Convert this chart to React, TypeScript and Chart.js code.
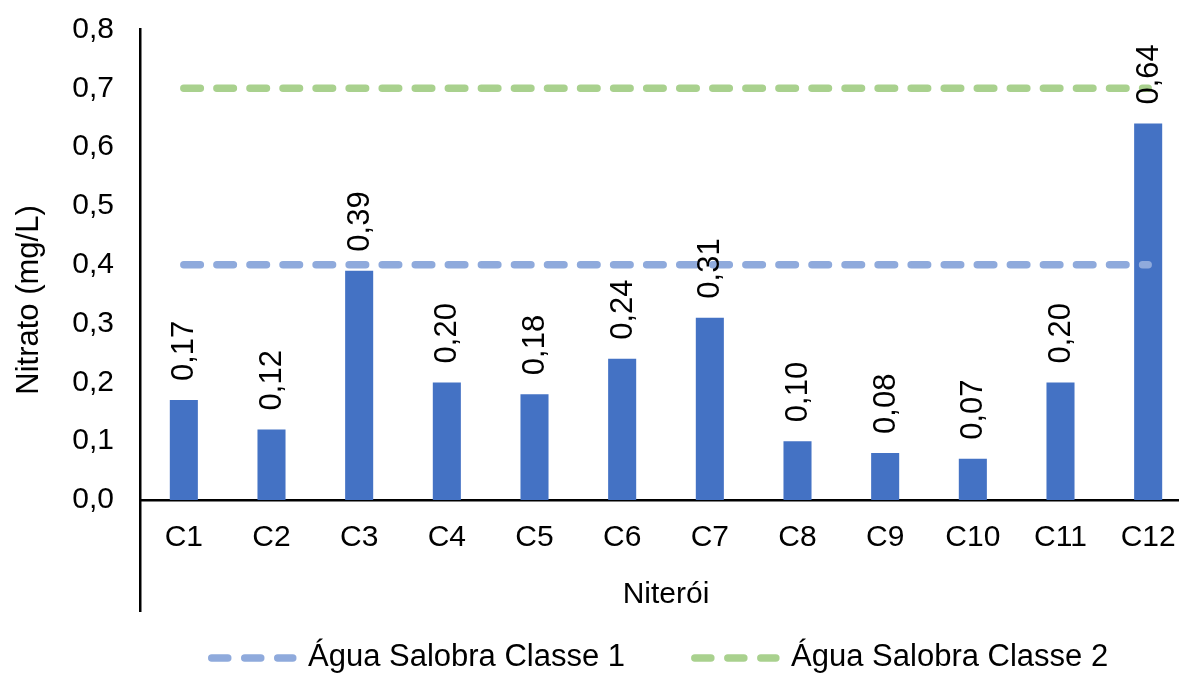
import React, { useEffect, useRef } from 'react';
import { Chart, registerables } from 'chart.js';

Chart.register(...registerables);

// ---- Data ----
const categories = ['C1', 'C2', 'C3', 'C4', 'C5', 'C6', 'C7', 'C8', 'C9', 'C10', 'C11', 'C12'];
const nitrato = [0.17, 0.12, 0.39, 0.2, 0.18, 0.24, 0.31, 0.1, 0.08, 0.07, 0.2, 0.64];
const classe1 = [0.4, 0.4, 0.4, 0.4, 0.4, 0.4, 0.4, 0.4, 0.4, 0.4, 0.4, 0.4];
const classe2 = [0.7, 0.7, 0.7, 0.7, 0.7, 0.7, 0.7, 0.7, 0.7, 0.7, 0.7, 0.7];
const seriesNames = ['Água Salobra Classe 1', 'Água Salobra Classe 2'];
const xTitle = 'Niterói';
const yTitle = 'Nitrato (mg/L)';
const yMin = 0;
const yMax = 0.8;
const yStep = 0.1;

const FONT = "'Liberation Sans', Arial, sans-serif";
const BAR_COLOR = '#4472C4';
const LINE_COLORS = ['#8FAADC', '#A9D18E'];
const fmt = (v: number, d: number) => v.toFixed(d).replace('.', ',');

const decorPlugin = {
  id: 'decor',
  afterDatasetsDraw(chart: any) {
    const ctx = chart.ctx;
    const meta = chart.getDatasetMeta(2);
    ctx.save();
    ctx.fillStyle = '#000';
    ctx.font = `31px ${FONT}`;
    ctx.textAlign = 'left';
    ctx.textBaseline = 'middle';
    meta.data.forEach((el: any, i: number) => {
      ctx.save();
      ctx.translate(el.x + 1, el.y - 19);
      ctx.rotate(-Math.PI / 2);
      ctx.fillText(fmt(nitrato[i], 2), 0, 0);
      ctx.restore();
    });
    ctx.restore();
  },
  afterDraw(chart: any) {
    const ctx = chart.ctx;
    const area = chart.chartArea;
    ctx.save();
    // extended vertical axis line (multi-level category separator)
    const w = 2.5;
    const ax = Math.round(area.left - w / 2) + w / 2;
    ctx.strokeStyle = '#000';
    ctx.lineWidth = w;
    ctx.beginPath();
    ctx.moveTo(ax, area.bottom);
    ctx.lineTo(ax, 612);
    ctx.stroke();

    // y axis title
    ctx.fillStyle = '#000';
    ctx.font = `31px ${FONT}`;
    ctx.textAlign = 'center';
    ctx.textBaseline = 'middle';
    ctx.save();
    ctx.translate(29, 300);
    ctx.rotate(-Math.PI / 2);
    ctx.fillText(yTitle, 0, 0);
    ctx.restore();

    // legend
    const ly = 658;
    let x = 208;
    ctx.font = `31px ${FONT}`;
    ctx.textAlign = 'left';
    seriesNames.forEach((name, i) => {
      ctx.strokeStyle = LINE_COLORS[i];
      ctx.lineWidth = 7.5;
      ctx.lineCap = 'round';
      ctx.setLineDash([16, 17]);
      ctx.beginPath();
      ctx.moveTo(x + 3.75, ly);
      ctx.lineTo(x + 88.5 - 3.75, ly);
      ctx.stroke();
      ctx.setLineDash([]);
      ctx.fillStyle = '#000';
      ctx.fillText(name, x + 100, ly - 1);
      const tw = ctx.measureText(name).width;
      x = x + 100 + tw + 66;
    });
    ctx.restore();
  },
};

const noPad = (s: any) => {
  s.paddingTop = 0;
  s.paddingBottom = 0;
  s.paddingLeft = 0;
  s.paddingRight = 0;
};

export default function App() {
  const ref = useRef<HTMLCanvasElement | null>(null);
  useEffect(() => {
    if (!ref.current) return;
    const chart = new Chart(ref.current, {
      type: 'bar',
      data: {
        labels: categories,
        datasets: [
          {
            type: 'line',
            label: seriesNames[0],
            data: classe1,
            borderColor: LINE_COLORS[0],
            backgroundColor: LINE_COLORS[0],
            borderWidth: 7.5,
            borderDash: [16.5, 16.56],
            borderCapStyle: 'round',
            pointRadius: 0,
            fill: false,
            order: 1,
          } as any,
          {
            type: 'line',
            label: seriesNames[1],
            data: classe2,
            borderColor: LINE_COLORS[1],
            backgroundColor: LINE_COLORS[1],
            borderWidth: 7.5,
            borderDash: [16.5, 16.56],
            borderCapStyle: 'round',
            pointRadius: 0,
            fill: false,
            order: 1,
          } as any,
          {
            type: 'bar',
            label: 'Nitrato',
            data: nitrato,
            backgroundColor: BAR_COLOR,
            barPercentage: 0.32,
            categoryPercentage: 1,
            order: 2,
          },
        ],
      },
      options: {
        responsive: false,
        animation: false,
        layout: { padding: { top: 29.5, bottom: 53, left: 0, right: 0 } },
        plugins: { legend: { display: false }, tooltip: { enabled: false } },
        scales: {
          x: {
            grid: { display: false, drawTicks: false },
            border: { display: true, color: '#000', width: 2.5 },
            ticks: { padding: 20, color: '#000', font: { family: FONT, size: 30 }, maxRotation: 0, autoSkip: false },
            title: { display: true, text: xTitle, color: '#000', font: { family: FONT, size: 30 }, padding: { top: 0, bottom: 7.4 } },
            afterFit: (s: any) => { s.height = 120; noPad(s); },
          },
          y: {
            min: yMin,
            max: yMax,
            grid: { display: false, drawTicks: false },
            border: { display: true, color: '#000', width: 2.5 },
            ticks: {
              stepSize: yStep,
              padding: 26,
              color: '#000',
              font: { family: FONT, size: 30 },
              callback: (v: any) => fmt(Number(v), 1),
            },
            afterFit: (s: any) => { s.width = 140; noPad(s); },
          },
        },
      } as any,
      plugins: [decorPlugin],
    });
    return () => chart.destroy();
  }, []);

  return (
    <div style={{ position: 'absolute', left: 0, top: 0, width: 1179, height: 673, overflow: 'hidden', background: '#fff' }}>
      <canvas ref={ref} width={1192} height={673} style={{ display: 'block' }} />
    </div>
  );
}
